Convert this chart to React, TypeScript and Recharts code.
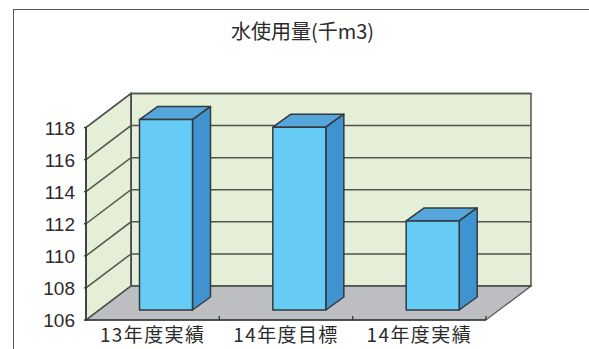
import React from 'react';
import { BarChart, Bar, XAxis, YAxis, CartesianGrid, usePlotArea } from 'recharts';

const categories = ['13年度実績', '14年度目標', '14年度実績'];
const usage = [117.87, 117.4, 111.55];
const yTicks = [106, 108, 110, 112, 114, 116, 118];
const title = '水使用量(千m3)';

const rows = categories.map((name, i) => ({ name, usage: usage[i] }));

// Oblique projection used for the box around the plot
const DEPTH_X = 45;
const DEPTH_Y = -34;
// Bars stand part-way into the floor
const BAR_SHIFT_X = 13.5;
const BAR_SHIFT_Y = -10;
const BAR_DEPTH_X = 18;
const BAR_DEPTH_Y = -13;

const INK = '#333a3c';
const GRID = '#50544e';
const WALL = '#e5eed6';
const FLOOR = '#bdbec2';
const FONT = '"Noto Sans CJK JP", "Liberation Sans", sans-serif';

const pts = (list: number[][]) => list.map((p) => p.join(',')).join(' ');

function Walls() {
  const area = usePlotArea();
  if (!area) return null;
  const { x, y, width, height } = area;
  const b = y + height;
  const r = x + width;
  return (
    <g>
      <polygon points={pts([[x + DEPTH_X, y + DEPTH_Y], [r + DEPTH_X, y + DEPTH_Y], [r + DEPTH_X, b + DEPTH_Y], [x + DEPTH_X, b + DEPTH_Y]])} fill={WALL} stroke={GRID} strokeWidth={1.5} />
      <polygon points={pts([[x, y], [x + DEPTH_X, y + DEPTH_Y], [x + DEPTH_X, b + DEPTH_Y], [x, b]])} fill={WALL} stroke={INK} strokeWidth={1.5} />
      <polygon points={pts([[x, b], [x + DEPTH_X, b + DEPTH_Y], [r + DEPTH_X, b + DEPTH_Y], [r, b]])} fill={FLOOR} stroke={GRID} strokeWidth={1.2} />
    </g>
  );
}

// Each value line runs up the side wall and then along the back wall;
// the first line also lays down the walls and floor behind all of them.
function GridLine(props: any) {
  const { x1, x2, y1, index } = props;
  return (
    <g>
      {index === 0 ? <Walls /> : null}
      <polyline
        points={pts([[x1, y1], [x1 + DEPTH_X, y1 + DEPTH_Y], [x2 + DEPTH_X, y1 + DEPTH_Y]])}
        fill="none"
        stroke={GRID}
        strokeWidth={1.5}
      />
    </g>
  );
}

function Box3D(props: any) {
  const { x, y, width, height } = props;
  const l = x + BAR_SHIFT_X;
  const r = l + width;
  const t = y + BAR_SHIFT_Y;
  const b = t + height;
  const dx = BAR_DEPTH_X;
  const dy = BAR_DEPTH_Y;
  return (
    <g stroke={INK} strokeWidth={1.5} strokeLinejoin="round">
      <polygon points={pts([[l, t], [l + dx, t + dy], [r + dx, t + dy], [r, t]])} fill="#56a6dc" />
      <polygon points={pts([[r, t], [r + dx, t + dy], [r + dx, b + dy], [r, b]])} fill="#3f93d0" />
      <rect x={l} y={t} width={width} height={height} fill="#66ccf5" />
    </g>
  );
}

function CategoryTick(props: any) {
  const { x, y, payload } = props;
  const edge = x + (payload.offset ?? 0);
  return (
    <g>
      <line x1={edge} x2={edge} y1={y - 12} y2={y - 8} stroke={INK} strokeWidth={1.3} />
      <text x={x} y={y + 14} textAnchor="middle" fontFamily={FONT} fontSize={19} letterSpacing={1.4} fill="#2b2b2b">
        {payload.value}
      </text>
    </g>
  );
}

function ValueTick(props: any) {
  const { x, y, payload } = props;
  return (
    <g>
      <line x1={x + 6} x2={x + 8} y1={y} y2={y} stroke={INK} strokeWidth={1.3} />
      <text x={x - 3} y={y + 7} textAnchor="end" fontFamily='"Liberation Sans", sans-serif' fontSize={19} fill="#2b2b2b">
        {payload.value}
      </text>
    </g>
  );
}

export default function App() {
  return (
    <div style={{ position: 'absolute', left: 0, top: 0, width: 589, height: 349, overflow: 'hidden', background: '#fff' }}>
      <div style={{ position: 'absolute', left: 13, top: 9, width: 700, height: 500, border: '1.5px solid #555' }} />
      <div style={{ position: 'absolute', left: 0, top: 20, width: 605, textAlign: 'center', fontFamily: FONT, fontSize: 20, lineHeight: '22px', color: '#2b2b2b' }}>
        {title}
      </div>
      <div style={{ position: 'absolute', left: 0, top: 0 }}>
        <BarChart width={589} height={349} data={rows} margin={{ left: 0, top: 127.5, right: 103, bottom: 0 }}>
          <CartesianGrid vertical={false} horizontal={<GridLine />} />
          <XAxis dataKey="name" height={29} axisLine={{ stroke: INK, strokeWidth: 1.5 }} tickLine={false} tick={CategoryTick} interval={0} />
          <YAxis width={86} domain={[106, 118]} ticks={yTicks} interval={0} axisLine={{ stroke: INK, strokeWidth: 1.5 }} tickLine={false} tick={ValueTick} />
          <Bar dataKey="usage" barSize={53} isAnimationActive={false} shape={Box3D} />
        </BarChart>
      </div>
    </div>
  );
}
